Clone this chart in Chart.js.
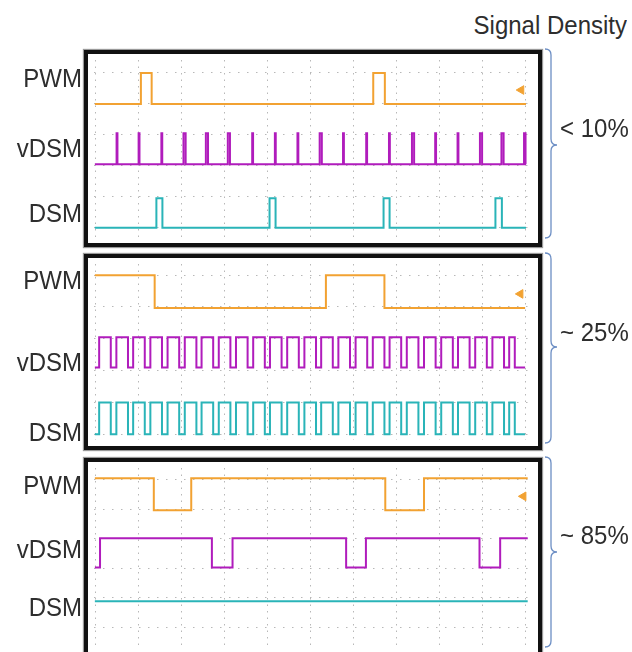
<!DOCTYPE html>
<html>
<head>
<meta charset="utf-8">
<script src="https://cdn.jsdelivr.net/npm/chart.js@4.4.1/dist/chart.umd.min.js"></script>
<style>
  body { margin: 0; width: 632px; height: 652px; overflow: hidden; background: #fff; position: relative;
         font-family: "Liberation Sans", Arial, sans-serif; color: #2e2e2e; }
  .panel { position: absolute; left: 84px; width: 458px; border: 4px solid #111; box-sizing: border-box;
           background: #fff; box-shadow: 0 0 1px 1px #999; }
  .panel canvas { display: block; }
  .lbl { position: absolute; font-size: 24px; line-height: 24px; white-space: nowrap; transform: scaleY(1.08); }
  svg { position: absolute; left: 0; top: 0; }
</style>
</head>
<body>
<div class="lbl" style="right:5px; top:13px;">Signal Density</div>

<div class="panel" style="top:50px; height:197px;"><canvas id="p1" width="450" height="189"></canvas></div>
<div class="panel" style="top:254px; height:196px;"><canvas id="p2" width="450" height="188"></canvas></div>
<div class="panel" style="top:458px; height:200px;"><canvas id="p3" width="450" height="190"></canvas></div>

<svg width="632" height="652">
  <g fill="none" stroke="#6c8ec4" stroke-width="1.3">
    <path d="M545 49 Q551 49 551 55 L551 139 Q551 145 557 145 Q551 145 551 151 L551 232 Q551 238 545 238"/>
    <path d="M545 253 Q551 253 551 259 L551 341 Q551 347 557 347 Q551 347 551 353 L551 437 Q551 443 545 443"/>
    <path d="M545 457 Q551 457 551 463 L551 546 Q551 552 557 552 Q551 552 551 558 L551 641 Q551 647 545 647"/>
  </g>
</svg>

<script>
// channel names and the density printed next to each panel
const channelNames = ['PWM', 'vDSM', 'DSM'];
const densityLabels = ['< 10%', '~ 25%', '~ 85%'];

// horizontal divisions of the scope screen
const xDivs = [0, 1, 2, 3, 4, 5, 6, 7, 8, 9, 10];

// ---- panel 1 (< 10%) ----
const p1Span = [-0.02, 10.0];
const p1PwmLevels = [4.0, 5.0];
const p1PwmEdges = [1.05, 1.30, 6.45, 6.72];
const p1VdsmLevels = [2.05, 3.05];
const p1VdsmSpikes = [
  [0.485, 0.505], [0.997, 1.017], [1.526, 1.546], [2.04, 2.09], [2.56, 2.61],
  [3.07, 3.12], [3.637, 3.657], [4.164, 4.184], [4.689, 4.709], [5.205, 5.255],
  [5.748, 5.768], [6.287, 6.307], [6.816, 6.836], [7.35, 7.40], [7.89, 7.91],
  [8.41, 8.43], [8.93, 8.98], [9.43, 9.48], [9.955, 9.99]
];
const p1DsmLevels = [0.0, 0.95];
const p1DsmPulses = [[1.41, 1.55], [4.04, 4.18], [6.69, 6.83], [9.29, 9.44]];
const p1Trigger = [9.89, 4.45];

// ---- panel 2 (~ 25%) ----
const p2Span = [-0.02, 9.98];
const p2PwmLevels = [3.97, 5.0];
const p2PwmEdges = [1.37, 5.35, 6.71];
const p2VdsmLevels = [2.1, 3.05];
const p2DsmLevels = [0.0, 1.0];
const p2Pulses = [
  [0.08, 0.35], [0.48, 0.75], [0.87, 1.14], [1.27, 1.54], [1.67, 1.94],
  [2.07, 2.34], [2.46, 2.73], [2.86, 3.13], [3.26, 3.53], [3.66, 3.93],
  [4.05, 4.32], [4.45, 4.72], [4.85, 5.12], [5.24, 5.51], [5.64, 5.91],
  [6.04, 6.31], [6.44, 6.71], [6.83, 7.10], [7.23, 7.50], [7.63, 7.90],
  [8.03, 8.30], [8.42, 8.69], [8.82, 9.09], [9.22, 9.49], [9.61, 9.74]
];
const p2Trigger = [9.87, 4.41];

// ---- panel 3 (~ 85%) ----
const p3Span = [-0.02, 10.04];
const p3PwmLevels = [3.97, 5.05];
const p3PwmEdges = [1.35, 2.22, 6.73, 7.63];
const p3VdsmLevels = [2.03, 3.02];
const p3VdsmEdges = [0.10, 2.70, 3.18, 5.82, 6.28, 8.92, 9.40];
const p3DsmLevel = 0.89;
const p3Trigger = [9.94, 4.44];

const ORANGE = '#f2a232';
const MAGENTA = '#b01cbc';
const CYAN = '#2ab4b8';

// square wave from toggle positions (stepped line)
function wave(span, levels, startHigh, edges) {
  const lo = levels[0], hi = levels[1];
  let high = startHigh;
  const pts = [{ x: span[0], y: high ? hi : lo }];
  edges.forEach(e => {
    high = !high;
    pts.push({ x: e, y: high ? hi : lo });
  });
  pts.push({ x: span[1], y: high ? hi : lo });
  return pts;
}

function trace(points, color) {
  return { data: points, borderColor: color, borderWidth: 2, stepped: true, fill: false, pointRadius: 0 };
}

function marker(pos, color) {
  return {
    data: [{ x: pos[0], y: pos[1] }], showLine: false, pointStyle: 'triangle', rotation: -90,
    pointRadius: 5, backgroundColor: color, borderColor: color, borderWidth: 1
  };
}

function makePanel(id, yMin, yMax, yGrid, datasets) {
  return new Chart(document.getElementById(id), {
    type: 'line',
    data: { datasets: datasets },
    options: {
      responsive: false,
      animation: false,
      devicePixelRatio: 1,
      layout: { padding: 0 },
      plugins: { legend: { display: false }, tooltip: { enabled: false } },
      scales: {
        x: {
          type: 'linear', min: -0.04, max: 10.14,
          afterBuildTicks: s => { s.ticks = xDivs.map(v => ({ value: v })); },
          afterFit: s => { s.height = 0; },
          ticks: { display: false },
          grid: { color: '#b8b8b8', lineWidth: 1, drawTicks: false },
          border: { display: false, dash: [1.5, 5] }
        },
        y: {
          type: 'linear', min: yMin, max: yMax,
          afterBuildTicks: s => { s.ticks = yGrid.map(v => ({ value: v })); },
          afterFit: s => { s.width = 0; },
          ticks: { display: false },
          grid: { color: '#b8b8b8', lineWidth: 1, drawTicks: false },
          border: { display: false, dash: [1.5, 7.5] }
        }
      }
    }
  });
}

makePanel('p1', -0.30, 5.42, [0, 1, 2, 3, 4, 5], [
  trace(wave(p1Span, p1PwmLevels, false, p1PwmEdges), ORANGE),
  trace(wave(p1Span, p1VdsmLevels, false, p1VdsmSpikes.flat()), MAGENTA),
  trace(wave(p1Span, p1DsmLevels, false, p1DsmPulses.flat()), CYAN),
  marker(p1Trigger, ORANGE)
]);

makePanel('p2', -0.18, 5.35, [0, 1, 2, 3, 4, 5], [
  trace(wave(p2Span, p2PwmLevels, true, p2PwmEdges), ORANGE),
  trace(wave(p2Span, p2VdsmLevels, false, p2Pulses.flat()), MAGENTA),
  trace(wave(p2Span, p2DsmLevels, false, p2Pulses.flat()), CYAN),
  marker(p2Trigger, ORANGE)
]);

makePanel('p3', -0.63, 5.40, [0, 1, 2, 3, 4, 5], [
  trace(wave(p3Span, p3PwmLevels, true, p3PwmEdges), ORANGE),
  trace(wave(p3Span, p3VdsmLevels, false, p3VdsmEdges), MAGENTA),
  trace(wave(p3Span, [p3DsmLevel, p3DsmLevel], false, []), CYAN),
  marker(p3Trigger, ORANGE)
]);

// channel labels left of each panel, density labels right of each bracket
const labelRows = [[78, 148, 213], [280, 362, 432], [485, 549, 607]];
const densityRows = [128, 332, 535];
labelRows.forEach((rows, p) => {
  rows.forEach((cy, i) => {
    const d = document.createElement('div');
    d.className = 'lbl';
    d.style.right = '550px';
    d.style.top = (cy - 12) + 'px';
    d.textContent = channelNames[i];
    document.body.appendChild(d);
  });
  const t = document.createElement('div');
  t.className = 'lbl';
  t.style.left = '560px';
  t.style.top = (densityRows[p] - 12) + 'px';
  t.textContent = densityLabels[p];
  document.body.appendChild(t);
});
</script>
</body>
</html>
